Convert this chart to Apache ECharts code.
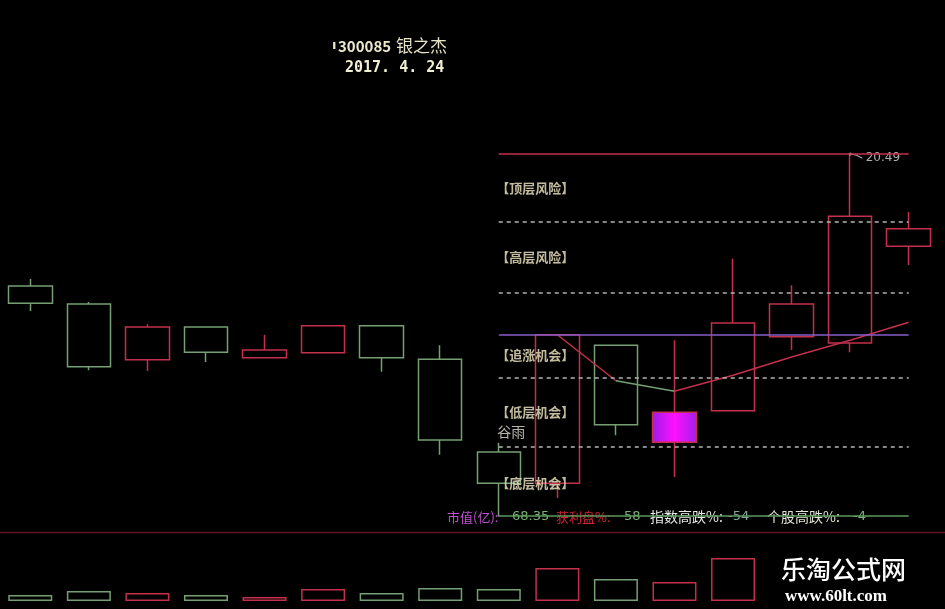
<!DOCTYPE html>
<html><head><meta charset="utf-8">
<script src="https://cdn.jsdelivr.net/npm/echarts@6/dist/echarts.min.js"></script>
<style>html,body{margin:0;padding:0;background:#000}#c{width:945px;height:609px}</style>
</head><body><div id="c"></div>
<script>
const categories = ['2017-04-10','2017-04-11','2017-04-12','2017-04-13','2017-04-14','2017-04-17','2017-04-18','2017-04-19','2017-04-20','2017-04-21','2017-04-24','2017-04-25','2017-04-26','2017-04-27','2017-04-28','2017-05-02'];
const opens  = [18.60,18.34,17.54,18.01,17.57,17.64,18.03,17.55,16.22,15.77,17.75,16.36,16.81,17.87,17.78,19.17];
const closes = [18.35,17.44,18.01,17.65,17.68,18.03,17.57,16.39,15.77,17.90,16.61,16.79,18.07,18.34,19.60,19.42];
const lows   = [18.24,17.39,17.38,17.51,17.57,17.64,17.37,16.18,15.29,15.56,16.46,15.86,16.81,17.68,17.65,18.90];
const highs  = [18.70,18.37,18.05,18.01,17.90,18.03,18.03,17.75,16.35,17.90,17.75,17.82,18.99,18.61,20.49,19.66];
const volumes = [6,10,8,6,4,12,8,13,12,33,22,19,43,null,null,null];
const maValues = [null,null,null,null,null,null,null,null,null,17.90,17.24,17.09,17.32,17.58,17.82,18.08];
const highLevel = 20.49;
const dashedLevels = [19.52,18.50,17.28,16.29];
const chaseLevel = 17.90;
const infoLevel = 15.30;
const zoneNames = ['【顶层风险】','【高层风险】','【追涨机会】','【低层机会】','【底层机会】'];
const zoneLabelY = [20.00,19.01,17.61,16.79,15.77];
const termName = '谷雨';
const termY = 16.51;
const specialIndex = 11;
const levelStart = 8, levelEnd = 15;

const RED = '#c4304a', GREEN = '#74a074';
const chart = echarts.init(document.getElementById('c'));

const candleData = categories.map((c,i)=>{
  const v = [opens[i],closes[i],lows[i],highs[i]];
  if (i === specialIndex) {
    const g = new echarts.graphic.LinearGradient(0,0,1,0,[{offset:0,color:'#9a1ce8'},{offset:0.5,color:'#ff10ff'},{offset:1,color:'#a020e8'}]);
    return {value:v,itemStyle:{color:g,color0:g,borderColor:RED,borderColor0:RED}};
  }
  return v;
});
const volData = volumes.map((v,i)=>({value:v,itemStyle:{color:'rgba(0,0,0,0)',borderColor: closes[i]>opens[i]?RED:GREEN,borderWidth:1.5}}));

function seg(a,b){return maValues.map((v,i)=> (i>=a && i<=b)?v:null);}
function hline(val,color,type){
  return [{coord:[categories[levelStart],val],lineStyle:{color:color,type:type,width:1.5}},{coord:[categories[levelEnd],val]}];
}
const labelFont = {color:'#f2eac4',fontSize:13,fontWeight:'bold',fontFamily:'"Noto Sans CJK SC"'};
let gid = 0;
const T = (x,y,text,fill,font)=>({id:'t'+(gid++),type:'text',x:x,y:y,silent:true,style:{text:text,fill:fill,font:font,verticalAlign:'middle'}});

chart.setOption({
  backgroundColor:'#000',
  animation:false,
  grid:[{left:1,right:7,top:0,height:530},{left:1,right:7,top:551,height:50}],
  xAxis:[
    {type:'category',data:categories,gridIndex:0,show:false},
    {type:'category',data:categories,gridIndex:1,show:false}
  ],
  yAxis:[
    {type:'value',min:15.1,max:22.7,gridIndex:0,show:false,splitLine:{show:false}},
    {type:'value',min:0,max:50,gridIndex:1,show:false,splitLine:{show:false}}
  ],
  series:[
    {type:'candlestick',data:candleData,barWidth:44,silent:true,
     itemStyle:{color:'rgba(0,0,0,0)',color0:'rgba(0,0,0,0)',borderColor:RED,borderColor0:GREEN,borderWidth:1.5},
     markLine:{silent:true,symbol:['none','none'],label:{show:false},animation:false,
       data:[hline(highLevel,RED,'solid')]
         .concat(dashedLevels.map(v=>hline(v,'#b4b4b4',[4,4])))
         .concat([hline(chaseLevel,'#8a5cc8','solid'),hline(infoLevel,'#5c9a5c','solid')])}
    },
    {type:'line',data:seg(9,10),showSymbol:false,lineStyle:{color:RED,width:1.5},silent:true},
    {type:'line',data:seg(10,11),showSymbol:false,lineStyle:{color:GREEN,width:1.5},silent:true},
    {type:'line',data:seg(11,15),showSymbol:false,lineStyle:{color:RED,width:1.5},silent:true},
    {type:'scatter',symbolSize:1,itemStyle:{color:'rgba(0,0,0,0)'},silent:true,
     data:zoneNames.map((n,i)=>({name:n,value:[categories[levelStart],zoneLabelY[i]]})),
     label:Object.assign({show:true,position:'right',distance:-3,formatter:'{b}'},labelFont)},
    {type:'scatter',symbolSize:1,itemStyle:{color:'rgba(0,0,0,0)'},silent:true,
     data:[{name:termName,value:[categories[levelStart],termY]}],
     label:{show:true,position:'right',distance:-2,formatter:'{b}',color:'#e4e0d4',fontSize:14,fontFamily:'"Noto Sans CJK SC"'}},
    {type:'scatter',symbolSize:3,itemStyle:{color:'#e0e0e0'},silent:true,
     data:[{name:String(highLevel),value:[categories[14],highLevel]}],
     label:{show:true,position:'right',distance:14,offset:[0,4],formatter:'{b}',color:'#d8d8d8',fontSize:12,fontFamily:'"DejaVu Sans"'}},
    {type:'bar',xAxisIndex:1,yAxisIndex:1,data:volData,barWidth:44,silent:true}
  ],
  graphic:[
    {id:'sep',type:'line',silent:true,shape:{x1:0,y1:532.5,x2:945,y2:532.5},style:{stroke:'#5c1426',lineWidth:1.5}},
    T(332,46,'ı','#e8e4c8','bold 13px "DejaVu Sans"'),
    T(338,46,'300085','#ece8cc','bold 15px "Noto Sans CJK SC"'),
    T(396,46,'银之杰','#e8e4c8','17px "Noto Sans CJK SC"'),
    T(345,68,'2017. 4. 24','#f2eed4','bold 15px "DejaVu Sans Mono"'),
    T(447,517,'市值(亿):','#c050d0','13px "Noto Sans CJK SC"'),
    T(512,517,'68.35','#78b478','13px "DejaVu Sans"'),
    T(556,517,'获利盘%:','#d02434','13px "Noto Sans CJK SC"'),
    T(624,517,'58','#78b478','13px "DejaVu Sans"'),
    T(650,517,'指数高跌%:','#e8e8e8','14px "Noto Sans CJK SC"'),
    T(728,517,'-54','#80a8a0','13px "DejaVu Sans"'),
    T(767,517,'个股高跌%:','#e4e4d4','14px "Noto Sans CJK SC"'),
    T(853,517,'-4','#78b478','13px "DejaVu Sans"'),
    T(781,569,'乐淘公式网','#ffffff','500 25px "Noto Sans CJK SC"'),
    T(785,597,'www.60lt.com','#ffffff','bold 17px "Liberation Serif"')
  ]
});
const p = chart.convertToPixel({gridIndex:0},[categories[14],highLevel]);
chart.setOption({graphic:[{id:'arrow',type:'polyline',silent:true,shape:{points:[[p[0]+1,p[1]],[p[0]+6,p[1]+1],[p[0]+12,p[1]+4]]},style:{stroke:'#d0d0d0',lineWidth:1,fill:null}}]});
</script></body></html>
